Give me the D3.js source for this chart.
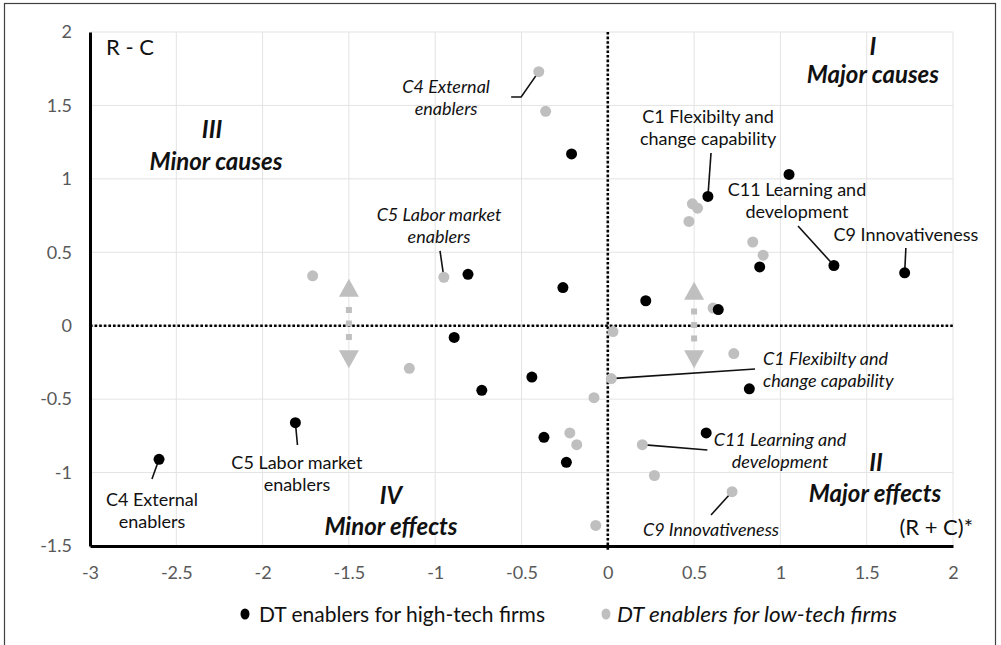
<!DOCTYPE html>
<html>
<head>
<meta charset="utf-8">
<script src="https://cdn.jsdelivr.net/npm/d3@7"></script>
<style>
  body { margin: 0; background: #fff; }
  svg { display: block; }
  text { font-family: Lato, "Open Sans", sans-serif; }
</style>
</head>
<body>
<svg id="chart" width="1001" height="645"></svg>
<script>
// Axis ticks
const xTicks = [-3, -2.5, -2, -1.5, -1, -0.5, 0, 0.5, 1, 1.5, 2];
const yTicks = [-1.5, -1, -0.5, 0, 0.5, 1, 1.5, 2];

// (R + C, R - C) for each enabler, high-tech firms
const highTech = [
  [0.58, 0.88],   // C1
  [1.05, 1.03],
  [0.88, 0.40],
  [1.31, 0.41],   // C11
  [1.72, 0.36],   // C9
  [-0.21, 1.17],
  [-0.81, 0.35],
  [-0.26, 0.26],
  [0.22, 0.17],
  [0.64, 0.11],
  [-0.89, -0.08],
  [-0.44, -0.35],
  [-0.73, -0.44],
  [-0.37, -0.76],
  [-0.24, -0.93],
  [0.82, -0.43],
  [0.57, -0.73],
  [-1.81, -0.66], // C5
  [-2.60, -0.91]  // C4
];

// (R + C, R - C) for each enabler, low-tech firms
const lowTech = [
  [-0.40, 1.73],  // C4
  [-0.36, 1.46],
  [0.49, 0.83],
  [0.52, 0.80],
  [0.47, 0.71],
  [0.84, 0.57],
  [0.90, 0.48],
  [-1.71, 0.34],
  [-0.95, 0.33],  // C5
  [0.61, 0.12],
  [0.03, -0.04],
  [-1.15, -0.29],
  [0.02, -0.36],  // C1
  [0.73, -0.19],
  [-0.08, -0.49],
  [-0.22, -0.73],
  [-0.18, -0.81],
  [0.20, -0.81],  // C11
  [0.27, -1.02],
  [0.72, -1.13],  // C9
  [-0.07, -1.36]
];

const seriesNames = ["DT enablers for high-tech firms", "DT enablers for low-tech firms"];

// Quadrant captions
const quadrants = [
  { num: "I",   name: "Major causes",  at: [1.536, 1.898], at2: [1.536, 1.708] },
  { num: "III", name: "Minor causes",  at: [-2.293, 1.333], at2: [-2.270, 1.115] },
  { num: "IV",  name: "Minor effects", at: [-1.256, -1.160], at2: [-1.256, -1.371] },
  { num: "II",  name: "Major effects", at: [1.554, -0.935], at2: [1.548, -1.146] }
];

// Vertical double arrows (x position, top tip, bottom tip)
const arrows = [[-1.5, 0.32, -0.29], [0.5, 0.30, -0.29]];

// Labelled enablers: series, point index, text, label anchor and leader bend points
const notes = [
  { s: "high", i: 18, lines: ["C4 External", "enablers"], at: [-2.641, -1.187], anchor: "middle", leader: [[-2.641, -1.044]] },
  { s: "high", i: 17, lines: ["C5 Labor market", "enablers"], at: [-1.801, -0.935], anchor: "middle", leader: [[-1.798, -0.812]] },
  { s: "high", i: 0, lines: ["C1 Flexibilty and", "change capability"], at: [0.581, 1.421], anchor: "middle", leader: [[0.598, 1.176]] },
  { s: "high", i: 3, lines: ["C11 Learning and", "development"], at: [1.096, 0.924], anchor: "middle", leader: [[1.102, 0.679]] },
  { s: "high", i: 4, lines: ["C9 Innovativeness"], at: [1.727, 0.618], anchor: "middle", leader: [[1.727, 0.529]] },
  { s: "low", i: 0, lines: ["C4 External", "enablers"], at: [-0.937, 1.626], anchor: "middle", leader: [[-0.502, 1.557], [-0.560, 1.557]] },
  { s: "low", i: 8, lines: ["C5 Labor market", "enablers"], at: [-0.978, 0.754], anchor: "middle", leader: [[-0.972, 0.509]] },
  { s: "low", i: 12, lines: ["C1 Flexibilty and", "change capability"], at: [0.899, -0.227], anchor: "start", leader: [[0.853, -0.295]] },
  { s: "low", i: 17, lines: ["C11 Learning and", "development"], at: [0.998, -0.778], anchor: "middle", leader: [[0.577, -0.846]] },
  { s: "low", i: 19, lines: ["C9 Innovativeness"], at: [0.598, -1.391], anchor: "middle", leader: [[0.598, -1.289]] }
];

const svg = d3.select("#chart");
const x = d3.scaleLinear().domain([-3, 2]).range([90, 953]);
const y = d3.scaleLinear().domain([-1.5, 2]).range([546, 32]);

const ink = "#111";
const tickColor = "#595959";
const grey = "#bfbfbf";

// Outer frame
svg.append("rect")
  .attr("x", 4.5).attr("y", 3.5)
  .attr("width", 991).attr("height", 700)
  .attr("fill", "none").attr("stroke", "#404040").attr("stroke-width", 1.2);

// Gridlines
const grid = svg.append("g").attr("stroke", "#e3e3e3").attr("stroke-width", 1);
grid.selectAll("line.v").data(xTicks.filter(d => d > -3)).join("line")
  .attr("x1", d => x(d)).attr("x2", d => x(d))
  .attr("y1", y(2)).attr("y2", y(-1.5));
grid.selectAll("line.h").data(yTicks.filter(d => d > -1.5)).join("line")
  .attr("x1", x(-3)).attr("x2", x(2))
  .attr("y1", d => y(d)).attr("y2", d => y(d));

// Axes built with d3 axis generators, then styled
const xAxis = svg.append("g")
  .attr("transform", `translate(0,${y(-1.5)})`)
  .call(d3.axisBottom(x).tickValues(xTicks).tickSize(0).tickPadding(20).tickFormat(d => String(d)));
xAxis.select(".domain").attr("stroke", "#000").attr("stroke-width", 3);
xAxis.selectAll("text").attr("fill", tickColor).attr("font-size", 18).attr("font-family", "Lato");

const yAxis = svg.append("g")
  .attr("transform", `translate(${x(-3)},0)`)
  .call(d3.axisLeft(y).tickValues(yTicks).tickSize(0).tickPadding(18).tickFormat(d => String(d)));
yAxis.select(".domain").attr("stroke", "#000").attr("stroke-width", 3);
yAxis.selectAll("text").attr("fill", tickColor).attr("font-size", 18).attr("font-family", "Lato");

// Dotted zero lines
svg.append("line")
  .attr("x1", x(-3)).attr("x2", x(2)).attr("y1", y(0)).attr("y2", y(0))
  .attr("stroke", "#000").attr("stroke-width", 2.6).attr("stroke-dasharray", "2.6,2");
svg.append("line")
  .attr("x1", x(0)).attr("x2", x(0)).attr("y1", y(2)).attr("y2", y(-1.5) + 5)
  .attr("stroke", "#000").attr("stroke-width", 2.6).attr("stroke-dasharray", "2.6,2");

// Grey double arrows
const arrowG = svg.append("g").attr("fill", grey);
arrows.forEach(([ax, top, bot]) => {
  const cx = x(ax), ty = y(top), by = y(bot), mid = (ty + by) / 2;
  arrowG.append("path").attr("d", `M${cx},${ty} L${cx + 10},${ty + 18} L${cx - 10},${ty + 18} Z`);
  arrowG.append("path").attr("d", `M${cx},${by} L${cx + 10},${by - 18} L${cx - 10},${by - 18} Z`);
  [-13.5, 0, 13.5].forEach(o => {
    arrowG.append("rect").attr("x", cx - 3).attr("y", mid + o - 3).attr("width", 6).attr("height", 6);
  });
});

// Leader lines
const seriesData = { high: highTech, low: lowTech };
const lineGen = d3.line().x(d => x(d[0])).y(d => y(d[1]));
svg.append("g").selectAll("path").data(notes).join("path")
  .attr("d", n => lineGen([seriesData[n.s][n.i], ...n.leader]))
  .attr("fill", "none").attr("stroke", ink).attr("stroke-width", 1.6);

// Points
svg.append("g").selectAll("circle").data(lowTech).join("circle")
  .attr("cx", d => x(d[0])).attr("cy", d => y(d[1])).attr("r", 5.5).attr("fill", grey);
svg.append("g").selectAll("circle").data(highTech).join("circle")
  .attr("cx", d => x(d[0])).attr("cy", d => y(d[1])).attr("r", 5.5).attr("fill", "#000");

// Enabler labels
notes.forEach(n => {
  const t = svg.append("text")
    .attr("x", x(n.at[0])).attr("y", y(n.at[1]))
    .attr("text-anchor", n.anchor)
    .attr("font-size", 18)
    .attr("font-style", n.s === "low" ? "italic" : "normal")
    .attr("fill", ink);
  n.lines.forEach((line, k) => {
    t.append("tspan").attr("x", x(n.at[0])).attr("dy", k === 0 ? "0.35em" : 22).text(line);
  });
});

// Quadrant captions
quadrants.forEach(q => {
  svg.append("text").attr("x", x(q.at[0])).attr("y", y(q.at[1])).attr("dy", "0.35em")
    .attr("text-anchor", "middle").attr("font-size", 24).attr("font-weight", 700)
    .attr("font-style", "italic").attr("fill", ink).text(q.num);
  svg.append("text").attr("x", x(q.at2[0])).attr("y", y(q.at2[1])).attr("dy", "0.35em")
    .attr("text-anchor", "middle").attr("font-size", 24).attr("font-weight", 700)
    .attr("font-style", "italic").attr("fill", ink).text(q.name);
});

// Axis titles
svg.append("text").attr("x", x(-3) + 16).attr("y", y(2) + 15).attr("dy", "0.35em")
  .attr("font-size", 22).attr("fill", ink).text("R - C");
svg.append("text").attr("x", x(2) + 20).attr("y", y(-1.5) - 19).attr("dy", "0.35em")
  .attr("text-anchor", "end").attr("font-size", 22).attr("fill", ink).text("(R + C)*");

// Legend
const legend = svg.append("g").attr("transform", "translate(0,614)");
const legendItems = [
  { name: seriesNames[0], color: "#000", italic: false, dot: 245, text: 259, len: 286 },
  { name: seriesNames[1], color: grey, italic: true, dot: 606, text: 617, len: 280 }
];
legendItems.forEach(it => {
  legend.append("ellipse").attr("cx", it.dot).attr("cy", 0).attr("rx", 4.5).attr("ry", 5.5).attr("fill", it.color);
  legend.append("text").attr("x", it.text).attr("y", 0).attr("dy", "0.35em")
    .attr("font-size", 22).attr("font-style", it.italic ? "italic" : "normal")
    .attr("textLength", it.len).attr("lengthAdjust", "spacingAndGlyphs")
    .attr("fill", ink).text(it.name);
});
</script>
</body>
</html>
